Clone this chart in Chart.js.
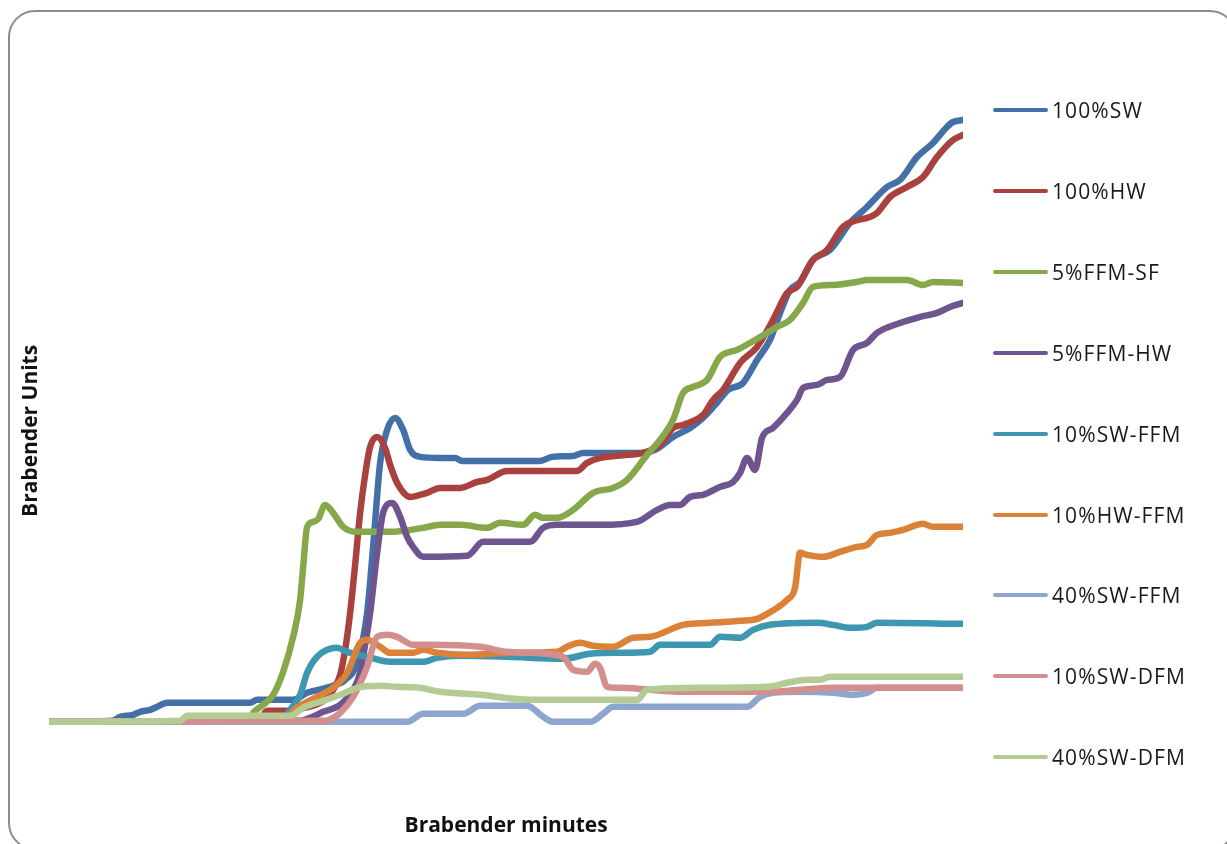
<!DOCTYPE html>
<html>
<head>
<meta charset="utf-8">
<title>Brabender curves</title>
<script src="https://cdn.jsdelivr.net/npm/chart.js@4.4.1/dist/chart.umd.min.js"></script>
<style>
  html, body { margin: 0; padding: 0; background: #fff; overflow: hidden; }
  #wrap { position: relative; width: 1227px; height: 844px; }
  #box { position: absolute; left: 0; top: 0; width: 1227px; height: 844px; }
  #frame {
    position: absolute; left: 8px; top: 10px; width: 1229px; height: 840px;
    border: 2px solid #8c8c8c; border-radius: 27px; box-sizing: border-box;
  }
  #legend { position: absolute; left: 993px; top: 0; }
  .item {
    position: absolute; left: 0; height: 26px; display: flex; align-items: center;
    white-space: nowrap; font: 21px 'Open Sans', sans-serif; letter-spacing: 1.1px; color: #1a1a1a;
  }
  .swatch { width: 55px; height: 4px; border-radius: 2px; margin-right: 4px; }
</style>
</head>
<body>
<div id="wrap">
  <div id="frame"></div>
  <div id="box"><canvas id="brabender"></canvas></div>
  <div id="legend"></div>
</div>
<script>
/* Brabender curves: x = minutes (arbitrary), y = Brabender units */
var seriesLabels = ['100%SW', '100%HW', '5%FFM-SF', '5%FFM-HW', '10%SW-FFM',
  '10%HW-FFM', '40%SW-FFM', '10%SW-DFM', '40%SW-DFM'];
var seriesColors = ['#4470a8', '#a9423f', '#86a84a', '#6e5590', '#3d97b0',
  '#dc8238', '#8ea6cd', '#d38f8e', '#b4cc93'];

var sw100 = [[0,0],[6.3,1],[7.1,5],[8.4,7],[9.1,10],[10.1,12],[10.8,15],[11.8,19],[20.1,19],[20.8,22],
  [24.4,22],[25.8,29],[28.4,36],[29.6,42],[30.8,59],[31.8,109],[32.4,175],[33.1,259],[33.8,292],[34.6,304],
  [35.4,292],[36.1,272],[37.1,265],[39.1,264],[40.6,264],[41.3,261],[49.1,261],[50.3,265],[52.4,266],[53.4,269],
  [59.1,269],[60.6,272],[62.4,285],[64.1,294],[65.4,304],[66.6,317],[67.9,332],[69.4,339],[70.8,362],[72.1,382],
  [73.1,409],[74.1,432],[75.1,440],[76.4,462],[78.1,472],[80.1,499],[81.8,515],[83.8,535],[85.1,542],[86.8,565],
  [88.4,579],[89.8,595],[90.4,600],[91.4,602]];
var hw100 = [[0,0],[20.9,1],[21.8,11],[24.1,11],[25.1,13],[27.6,22],[28.4,32],[29.1,47],[29.6,72],[30.1,109],
  [30.6,157],[31.1,209],[31.6,247],[32.1,275],[32.8,285],[33.6,274],[34.1,257],[34.8,239],[36.1,225],[37.1,227],
  [37.8,229],[39.1,234],[41.1,234],[42.8,240],[43.8,242],[45.8,251],[52.8,251],[53.8,259],[55.1,264],[57.8,267],
  [59.4,269],[61.1,277],[62.4,294],[63.4,297],[65.4,307],[66.4,322],[67.4,332],[69.1,359],[70.8,375],[72.4,402],
  [73.8,429],[74.8,435],[76.4,462],[77.8,472],[79.4,495],[82.8,509],[84.1,525],[85.8,535],[87.4,545],[88.8,565],
  [90.4,582],[91.4,587]];
var ffmSf5 = [[0,0],[19.9,1],[20.4,9],[21.4,17],[22.4,27],[23.4,50],[24.4,85],[25.1,122],[25.4,155],[25.8,195],
  [26.4,200],[26.9,203],[27.6,217],[28.4,209],[29.4,195],[30.8,190],[34.1,190],[37.4,194],[39.1,197],[41.1,197],
  [43.8,194],[45.1,199],[47.4,197],[48.6,207],[49.4,204],[50.8,204],[52.4,212],[54.4,229],[56.4,234],[57.8,242],
  [59.8,267],[61.1,282],[62.4,302],[63.4,329],[64.4,335],[65.8,342],[67.1,365],[68.8,372],[70.1,379],[71.8,389],
  [72.8,395],[74.1,402],[75.4,419],[76.4,435],[78.4,437],[80.8,440],[81.8,442],[85.8,442],[87.4,437],[88.4,440],
  [91.4,439]];
var ffmHw5 = [[0,0],[25.1,1],[26.1,4],[27.4,10],[29.1,17],[30.4,32],[31.1,49],[31.6,77],[32.1,109],[32.8,169],
  [33.4,209],[34.3,219],[35.1,205],[35.8,185],[36.4,175],[37.4,165],[41.8,166],[43.4,180],[48.1,180],[49.4,194],
  [50.8,197],[55.1,197],[58.8,200],[60.8,212],[62.1,217],[63.1,217],[64.1,225],[65.4,227],[67.1,235],[68.4,240],
  [69.1,249],[69.8,264],[70.6,252],[71.3,284],[72.4,294],[73.8,309],[74.8,322],[75.4,334],[76.8,337],[77.8,342],
  [79.1,345],[80.4,372],[81.8,379],[82.8,389],[85.1,399],[87.1,405],[88.8,409],[90.1,415],[91.4,419]];
var swFfm10 = [[0,0],[23.3,1],[24.1,12],[25.1,27],[25.8,49],[26.8,65],[28.8,74],[29.8,70],[31.8,65],[34.1,60],
  [37.4,60],[38.8,64],[41.1,66],[45.8,65],[51.4,63],[54.1,68],[57.1,69],[60.1,70],[61.1,77],[66.1,77],
  [67.1,85],[69.1,84],[70.4,92],[72.1,97],[76.8,99],[78.4,97],[80.1,94],[81.8,95],[82.8,99],[91.4,98]];
var hwFfm10 = [[0,0],[23.6,1],[24.4,11],[26.4,23],[28.4,34],[29.8,49],[31.1,79],[31.8,82],[33.1,75],[34.1,69],
  [36.4,69],[37.4,72],[38.8,69],[41.8,67],[46.4,69],[50.8,70],[51.8,75],[53.1,79],[54.4,76],[56.4,75],
  [58.4,84],[60.1,85],[63.4,97],[66.1,99],[69.1,101],[70.8,103],[71.8,108],[72.8,114],[73.8,122],[74.6,134],
  [75.1,169],[75.8,167],[77.4,165],[79.1,170],[80.8,175],[81.8,177],[82.8,187],[84.1,189],[85.4,192],[87.4,198],
  [88.4,195],[91.4,195]];
var swFfm40 = [[0,0],[35.8,0],[37.4,8],[41.4,8],[43.1,16],[47.8,16],[49.4,5],[50.4,0],[54.1,0],[55.4,8],
  [56.4,15],[69.8,15],[71.1,25],[72.4,29],[75.1,30],[78.4,29],[80.4,27],[81.8,29],[82.8,34],[91.4,34]];
var swDfm10 = [[0,0],[27.6,1],[28.4,4],[29.1,9],[30.4,25],[31.8,55],[32.8,85],[33.8,87],[34.8,85],[36.4,77],
  [38.1,77],[43.1,75],[45.8,70],[48.1,69],[51.4,65],[52.4,52],[53.8,50],[54.6,58],[55.1,54],[55.8,35],
  [57.1,34],[63.4,30],[71.8,30],[75.1,32],[78.4,34],[91.4,34]];
var swDfm40 = [[0,0],[13.1,1],[13.8,6],[24.1,6],[25.4,14],[27.4,21],[29.1,27],[30.8,34],[33.1,36],[34.8,35],
  [37.1,34],[39.1,30],[43.1,27],[48.1,22],[58.8,22],[59.8,32],[65.1,34],[71.8,35],[73.8,39],[75.8,42],
  [77.1,42],[78.1,45],[91.4,45]];

var seriesData = [sw100, hw100, ffmSf5, ffmHw5, swFfm10, hwFfm10, swFfm40, swDfm10, swDfm40];

(function () {
  'use strict';

  function toPoints(arr) {
    return arr.map(function (p) { return { x: p[0], y: p[1] }; });
  }

  var datasets = seriesLabels.map(function (label, i) {
    return {
      label: label,
      data: toPoints(seriesData[i]),
      borderColor: seriesColors[i],
      backgroundColor: seriesColors[i],
      // later series sit on top, like the original
      order: seriesLabels.length - i,
    };
  });

  var titleFont = { family: 'Open Sans', size: 21, weight: 'bold', lineHeight: 1.2 };

  new Chart(document.getElementById('brabender'), {
    type: 'line',
    data: { datasets: datasets },
    options: {
      responsive: true,
      maintainAspectRatio: false,
      animation: false,
      layout: { padding: { top: 102, right: 264, bottom: 0, left: 0 } },
      plugins: {
        legend: { display: false },
        tooltip: { enabled: false },
      },
      elements: {
        point: { radius: 0 },
        line: {
          borderWidth: 6.5,
          borderCapStyle: 'round',
          borderJoinStyle: 'round',
          cubicInterpolationMode: 'monotone',
        },
      },
      scales: {
        x: {
          type: 'linear', min: 0, max: 91.4,
          grid: { display: false, drawTicks: false },
          border: { display: false },
          ticks: { display: false },
          title: { display: true, text: 'Brabender minutes', color: '#111', font: titleFont, padding: { top: 54, bottom: 5 } },
        },
        y: {
          min: -38, max: 620,
          grid: { display: false, drawTicks: false },
          border: { display: false },
          ticks: { display: false },
          title: { display: true, text: 'Brabender Units', color: '#111', font: titleFont, padding: { top: 18, bottom: 6 } },
        },
      },
    },
  });

  // legend: one row per series, spaced like the original
  var legend = document.getElementById('legend');
  seriesLabels.forEach(function (label, i) {
    var row = document.createElement('div');
    row.className = 'item';
    row.style.top = (97 + i * 80.9) + 'px';
    var sw = document.createElement('span');
    sw.className = 'swatch';
    sw.style.background = seriesColors[i];
    row.appendChild(sw);
    row.appendChild(document.createTextNode(label));
    legend.appendChild(row);
  });
})();
</script>
</body>
</html>
